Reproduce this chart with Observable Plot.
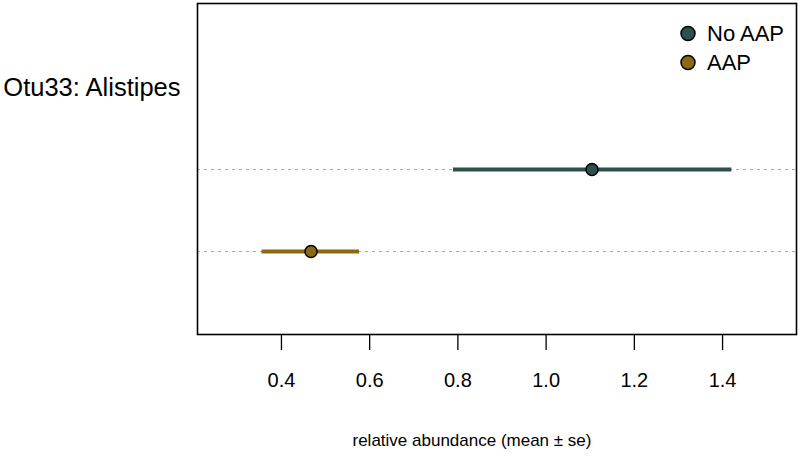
<!DOCTYPE html>
<html>
<head>
<meta charset="utf-8">
<script src="https://cdn.jsdelivr.net/npm/d3@7"></script>
<script src="https://cdn.jsdelivr.net/npm/@observablehq/plot@0.6"></script>
<style>
  html, body { margin: 0; padding: 0; background: #fff; }
  svg { display: block; }
</style>
</head>
<body>
<div id="chart"></div>
<script>
const taxonLabel = "Otu33: Alistipes";
const groups = ["No AAP", "AAP"];
const means = [1.104, 0.467];
const lows = [0.790, 0.356];
const highs = [1.421, 0.577];
const colors = ["#2F4F4F", "#8B6914"];
const xTicks = [0.4, 0.6, 0.8, 1.0, 1.2, 1.4];
const xTitle = ["relative abundance (mean \u00b1 se)"];

const rows = groups.map((g, i) => ({group: g, mean: means[i], lo: lows[i], hi: highs[i], color: colors[i], idx: i}));
const font = "Liberation Sans, Arial, Helvetica, sans-serif";

const legendMarks = rows.flatMap(r => [
  Plot.dot([r], {frameAnchor: "top-right", dx: -108.5, dy: 30 + 29 * r.idx, r: 7, fill: r.color, stroke: "#000", strokeWidth: 1.5}),
  Plot.text([r], {frameAnchor: "top-right", text: "group", textAnchor: "start", lineAnchor: "middle", dx: -89.5, dy: 30 + 29 * r.idx, fontSize: 22})
]);

const chart = Plot.plot({
  width: 800,
  height: 458,
  marginLeft: 197,
  marginRight: 4,
  marginTop: 3,
  marginBottom: 124,
  style: {fontFamily: font, background: "#fff"},
  x: {domain: [0.2097, 1.5676]},
  y: {type: "point", domain: [taxonLabel, ...groups], padding: 1},
  marks: [
    Plot.ruleY(groups, {y: d => d, stroke: "#a8a8a8", strokeWidth: 1, strokeDasharray: "3,4"}),
    Plot.ruleY(rows, {y: "group", x1: "lo", x2: "hi", stroke: "color", strokeWidth: 4}),
    Plot.dot(rows, {x: "mean", y: "group", r: 6, fill: "color", stroke: "#000", strokeWidth: 1.5}),
    Plot.frame({stroke: "#000", strokeWidth: 1.6}),
    Plot.axisX({ticks: xTicks, tickFormat: d3.format(".1f"), tickSize: 16, tickPadding: 22, fontSize: 20, label: null, stroke: "#000", strokeWidth: 1.3}),
    Plot.axisY({ticks: [taxonLabel], tickSize: 0, tickPadding: 17, fontSize: 25.5, label: null}),
    Plot.text(xTitle, {text: d => d, frameAnchor: "bottom-left", textAnchor: "start", dx: 155, dy: 111, fontSize: 17}),
    ...legendMarks
  ]
});
document.getElementById("chart").appendChild(chart);
</script>
</body>
</html>
